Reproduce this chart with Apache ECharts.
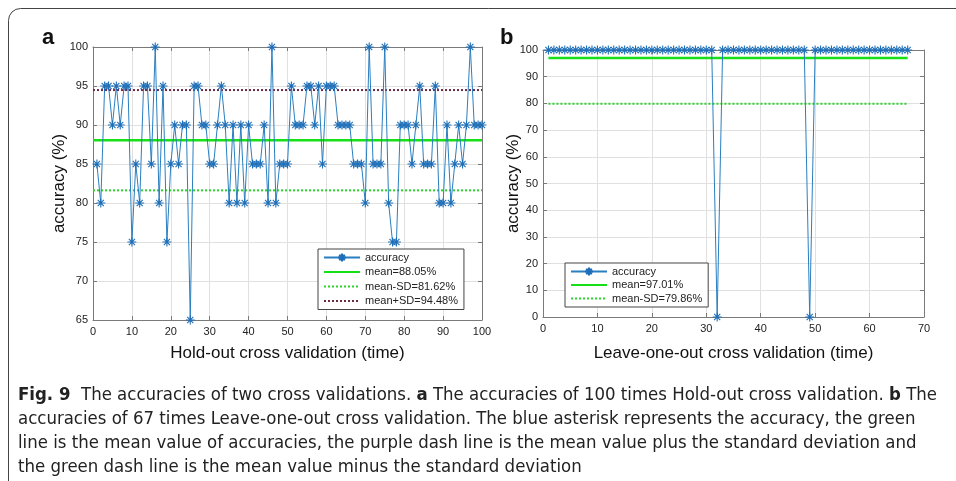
<!DOCTYPE html>
<html><head><meta charset="utf-8">
<script src="https://cdn.jsdelivr.net/npm/echarts@6/dist/echarts.min.js"></script>
<style>html,body{margin:0;padding:0;background:#fff}#c{width:956px;height:481px}</style>
</head><body><div id="c"></div>
<script>
// ---- data ----
const holdoutAccuracy = [
  85,80,95,95,90,95,90,95,95,75,
  85,80,95,95,85,100,80,95,75,85,
  90,85,90,90,65,95,95,90,90,85,
  85,90,95,90,80,90,80,90,80,90,
  85,85,85,90,80,100,80,85,85,85,
  95,90,90,90,95,95,90,95,85,95,
  95,95,90,90,90,90,85,85,85,80,
  100,85,85,85,100,80,75,75,90,90,
  90,85,90,95,85,85,85,95,80,80,
  90,80,85,90,85,90,100,90,90,90
];
const looAccuracy = [
  100,100,100,100,100,100,100,100,100,100,
  100,100,100,100,100,100,100,100,100,100,
  100,100,100,100,100,100,100,100,100,100,
  100,0,100,100,100,100,100,100,100,100,
  100,100,100,100,100,100,100,100,0,100,
  100,100,100,100,100,100,100,100,100,100,
  100,100,100,100,100,100,100
];
const holdoutStats = { mean: 88.05, minusSD: 81.62, plusSD: 94.48 };
const looStats = { mean: 97.01, minusSD: 79.86 };
const holdoutXRange = [0, 100];
const looXRange = [1, 67];
const holdoutYTicks = [65, 70, 75, 80, 85, 90, 95, 100];
const looYTicks = [0, 10, 20, 30, 40, 50, 60, 70, 80, 90, 100];

// ---- styles ----
const FONT = '"Liberation Sans", Arial, sans-serif';
const CAPFONT = '"Liberation Sans Narrow", "DejaVu Sans Condensed", sans-serif';
const BLUE = '#2a7fc0';
const GREEN = '#16e016';
const GREEN_DOT = '#2bd42b';
const PURPLE = '#6e2a45';
const AXIS = '#7a7a7a';
const ASTERISK = 'path://M0,5L10,5M5,0L5,10M1.6,1.6L8.4,8.4M8.4,1.6L1.6,8.4';

function pts(arr){ return arr.map((v,i)=>[i+1,v]); }
function hline(range, y){ return [[range[0], y],[range[1], y]]; }

function mainX(grid, min, max, gap){
  return {type:'value', gridIndex:grid, min, max, interval:10,
    axisLine:{show:true, onZero:false, lineStyle:{color:AXIS, width:1}},
    axisTick:{show:true, inside:true, length:4, lineStyle:{color:AXIS}},
    axisLabel:{color:'#222', fontSize:11, fontFamily:FONT, margin:6},
    splitLine:{show:true, lineStyle:{color:'#e0e0e0', width:1}},
    nameLocation:'middle', nameGap:gap, nameMoveOverlap:false,
    nameTextStyle:{fontSize:17, color:'#111', fontFamily:FONT}};
}
function topX(grid, min, max){
  return {type:'value', gridIndex:grid, min, max, interval:10, position:'top',
    axisLine:{show:true, onZero:false, lineStyle:{color:AXIS}},
    axisTick:{show:true, inside:true, length:4, lineStyle:{color:AXIS}},
    axisLabel:{show:false}, splitLine:{show:false}};
}
function mainY(grid, min, max, interval, gap){
  return {type:'value', gridIndex:grid, min, max, interval,
    axisLine:{show:true, onZero:false, lineStyle:{color:AXIS, width:1}},
    axisTick:{show:true, inside:true, length:4, lineStyle:{color:AXIS}},
    axisLabel:{color:'#222', fontSize:11, fontFamily:FONT, margin:5},
    splitLine:{show:true, lineStyle:{color:'#e0e0e0', width:1}},
    nameLocation:'middle', nameGap:gap, nameRotate:90, nameMoveOverlap:false,
    nameTextStyle:{fontSize:17, color:'#111', fontFamily:FONT}};
}
function rightY(grid, min, max, interval){
  return {type:'value', gridIndex:grid, min, max, interval, position:'right',
    axisLine:{show:true, onZero:false, lineStyle:{color:AXIS}},
    axisTick:{show:true, inside:true, length:4, lineStyle:{color:AXIS}},
    axisLabel:{show:false}, splitLine:{show:false}};
}

const xa = mainX(0, 0, 100, 25); xa.name = 'Hold-out cross validation (time)';
const xb = mainX(1, 0, 70, 28); xb.name = 'Leave-one-out cross validation (time)';
const ya = mainY(0, holdoutYTicks[0], holdoutYTicks[holdoutYTicks.length-1], 5, 25); ya.name = 'accuracy (%)';
const yb = mainY(1, looYTicks[0], looYTicks[looYTicks.length-1], 10, 21); yb.name = 'accuracy (%)';

const accStyle = (xi, yi, data) => ({
  type:'line', name:'accuracy', xAxisIndex:xi, yAxisIndex:yi, data,
  symbol:ASTERISK, symbolSize:9, showSymbol:true,
  lineStyle:{color:BLUE, width:1},
  itemStyle:{color:'#1f6fb8', borderColor:'#1f6fb8', borderWidth:1.1},
  animation:false, z:5
});
const refLine = (name, xi, yi, range, y, color, type, width) => ({
  type:'line', name, xAxisIndex:xi, yAxisIndex:yi, data:hline(range, y),
  symbol:'none', lineStyle:{color, width, type}, itemStyle:{color}, animation:false, z:3
});

const legendCommon = {
  orient:'vertical', backgroundColor:'#fff', borderColor:'#444', borderWidth:1,
  itemWidth:36, itemHeight:10,
  textStyle:{fontSize:11, color:'#222', fontFamily:FONT}, selectedMode:false
};
const noSym = name => ({name, itemStyle:{opacity:0}});

const mA = 'mean=' + holdoutStats.mean.toFixed(2) + '%';
const mAm = 'mean-SD=' + holdoutStats.minusSD.toFixed(2) + '%';
const mAp = 'mean+SD=' + holdoutStats.plusSD.toFixed(2) + '%';
const mB = 'mean=' + looStats.mean.toFixed(2) + '%';
const mBm = 'mean-SD=' + looStats.minusSD.toFixed(2) + '%';

const option = {
  animation:false,
  backgroundColor:'#fff',
  grid:[
    {left:93, right:474, top:47, bottom:161},
    {left:543, right:32, top:50, bottom:164}
  ],
  xAxis:[xa, topX(0,0,100), xb, topX(1,0,70)],
  yAxis:[ya, rightY(0,65,100,5), yb, rightY(1,0,100,10)],
  legend:[
    Object.assign({}, legendCommon, {left:318, top:249, itemGap:3.5, padding:[3,6,3,5],
      data:['accuracy', noSym(mA), noSym(mAm), noSym(mAp)]}),
    Object.assign({}, legendCommon, {left:565, top:263, itemGap:2.5, padding:[3,6,3,5],
      data:['accuracy ', noSym(mB), noSym(mBm)]})
  ],
  series:[
    refLine(mA, 0, 0, holdoutXRange, holdoutStats.mean, GREEN, 'solid', 2.5),
    refLine(mAm, 0, 0, holdoutXRange, holdoutStats.minusSD, GREEN_DOT, [2,2], 2),
    refLine(mAp, 0, 0, holdoutXRange, holdoutStats.plusSD, PURPLE, [2,2], 2),
    accStyle(0, 0, pts(holdoutAccuracy)),
    refLine(mB, 2, 2, looXRange, looStats.mean, GREEN, 'solid', 2.5),
    refLine(mBm, 2, 2, looXRange, looStats.minusSD, GREEN_DOT, [2,2], 2),
    Object.assign(accStyle(2, 2, pts(looAccuracy)), {name:'accuracy '})
  ],
  graphic:[
    {type:'rect', shape:{x:8.5, y:8.5, width:1000, height:600, r:12},
     style:{fill:'none', stroke:'#444', lineWidth:1}, silent:true},
    {type:'text', left:42, top:27, style:{text:'a', font:'bold 22px ' + FONT, fill:'#111'}},
    {type:'text', left:500, top:27, style:{text:'b', font:'bold 22px ' + FONT, fill:'#111'}},
    {type:'text', x:18, y:384, scaleX:1.084, originX:0, originY:0, style:{
      text:'{b|Fig. 9}  The accuracies of two cross validations. {b|a} The accuracies of 100 times Hold-out cross validation. {b|b} The\n' +
           'accuracies of 67 times Leave-one-out cross validation. The blue asterisk represents the accuracy, the green\n' +
           'line is the mean value of accuracies, the purple dash line is the mean value plus the standard deviation and\n' +
           'the green dash line is the mean value minus the standard deviation',
      font:'17px ' + CAPFONT, fill:'#222', lineHeight:24, verticalAlign:'top',
      rich:{b:{font:'bold 17px ' + CAPFONT, fill:'#222', lineHeight:24}}
    }}
  ]
};
const chart = echarts.init(document.getElementById('c'), null, {renderer:'canvas'});
chart.setOption(option);
</script></body></html>
